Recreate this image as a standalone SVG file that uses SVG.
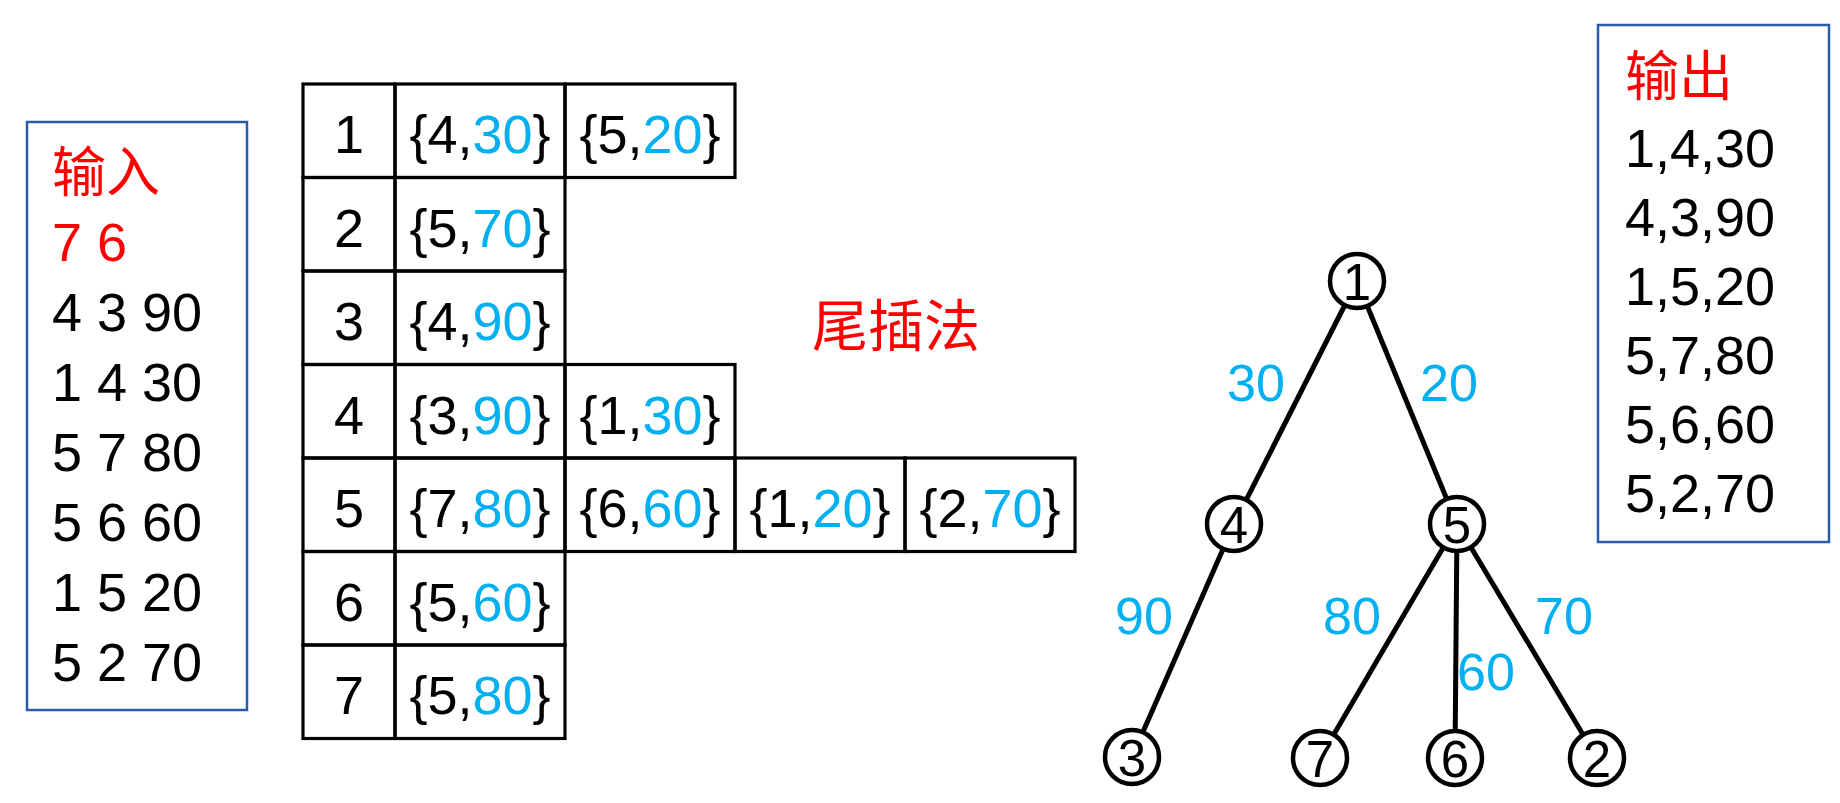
<svg xmlns="http://www.w3.org/2000/svg" width="1840" height="803" viewBox="0 0 1840 803">
<style>
text { font-family: "Liberation Sans", "Noto Sans CJK SC", sans-serif; }
.t { font-size: 54px; fill: #000; }
.red { fill: #FF0000; }
.blue { fill: #00B0F0; }
.cjk { font-family: "Noto Sans CJK SC", sans-serif; }
.box { fill: #fff; stroke: #2A5CAA; stroke-width: 2.5; }
.cell { fill: none; stroke: #000; stroke-width: 3.2; }
.ct { font-size: 54px; text-anchor: middle; fill: #000; }
.edge { stroke: #000; stroke-width: 5; }
.node circle { fill: #fff; stroke: #000; stroke-width: 4.5; }
.node text { font-size: 51px; text-anchor: middle; fill: #000; }
.lbl { font-size: 52px; text-anchor: middle; fill: #00B0F0; }
</style>
<rect width="1840" height="803" fill="#fff"/>

<g id="input">
  <rect class="box" x="27" y="122" width="220" height="588"/>
  <text class="t red cjk" x="52" y="192" font-size="54">输入</text>
  <text class="t red" x="52" y="261">7 6</text>
  <text class="t" x="52" y="331">4 3 90</text>
  <text class="t" x="52" y="401">1 4 30</text>
  <text class="t" x="52" y="471">5 7 80</text>
  <text class="t" x="52" y="541">5 6 60</text>
  <text class="t" x="52" y="611">1 5 20</text>
  <text class="t" x="52" y="681">5 2 70</text>
</g>

<g id="table">
  <g id="row1">
    <rect class="cell" x="303" y="84" width="92" height="93.5"/>
    <rect class="cell" x="395" y="84" width="170" height="93.5"/>
    <rect class="cell" x="565" y="84" width="170" height="93.5"/>
    <text class="ct" x="349" y="153">1</text>
    <text class="ct" x="480" y="153">{4,<tspan class="blue">30</tspan>}</text>
    <text class="ct" x="650" y="153">{5,<tspan class="blue">20</tspan>}</text>
  </g>
  <g id="row2">
    <rect class="cell" x="303" y="177.5" width="92" height="93.5"/>
    <rect class="cell" x="395" y="177.5" width="170" height="93.5"/>
    <text class="ct" x="349" y="246.5">2</text>
    <text class="ct" x="480" y="246.5">{5,<tspan class="blue">70</tspan>}</text>
  </g>
  <g id="row3">
    <rect class="cell" x="303" y="271" width="92" height="93.5"/>
    <rect class="cell" x="395" y="271" width="170" height="93.5"/>
    <text class="ct" x="349" y="340">3</text>
    <text class="ct" x="480" y="340">{4,<tspan class="blue">90</tspan>}</text>
  </g>
  <g id="row4">
    <rect class="cell" x="303" y="364.5" width="92" height="93.5"/>
    <rect class="cell" x="395" y="364.5" width="170" height="93.5"/>
    <rect class="cell" x="565" y="364.5" width="170" height="93.5"/>
    <text class="ct" x="349" y="433.5">4</text>
    <text class="ct" x="480" y="433.5">{3,<tspan class="blue">90</tspan>}</text>
    <text class="ct" x="650" y="433.5">{1,<tspan class="blue">30</tspan>}</text>
  </g>
  <g id="row5">
    <rect class="cell" x="303" y="458" width="92" height="93.5"/>
    <rect class="cell" x="395" y="458" width="170" height="93.5"/>
    <rect class="cell" x="565" y="458" width="170" height="93.5"/>
    <rect class="cell" x="735" y="458" width="170" height="93.5"/>
    <rect class="cell" x="905" y="458" width="170" height="93.5"/>
    <text class="ct" x="349" y="527">5</text>
    <text class="ct" x="480" y="527">{7,<tspan class="blue">80</tspan>}</text>
    <text class="ct" x="650" y="527">{6,<tspan class="blue">60</tspan>}</text>
    <text class="ct" x="820" y="527">{1,<tspan class="blue">20</tspan>}</text>
    <text class="ct" x="990" y="527">{2,<tspan class="blue">70</tspan>}</text>
  </g>
  <g id="row6">
    <rect class="cell" x="303" y="551.5" width="92" height="93.5"/>
    <rect class="cell" x="395" y="551.5" width="170" height="93.5"/>
    <text class="ct" x="349" y="620.5">6</text>
    <text class="ct" x="480" y="620.5">{5,<tspan class="blue">60</tspan>}</text>
  </g>
  <g id="row7">
    <rect class="cell" x="303" y="645" width="92" height="93.5"/>
    <rect class="cell" x="395" y="645" width="170" height="93.5"/>
    <text class="ct" x="349" y="714">7</text>
    <text class="ct" x="480" y="714">{5,<tspan class="blue">80</tspan>}</text>
  </g>
</g>

<g id="method">
  <text class="red cjk" x="896" y="346" font-size="56" text-anchor="middle">尾插法</text>
</g>

<g id="connectors">
  <line class="edge" x1="1357" y1="281" x2="1234" y2="524"/>
  <line class="edge" x1="1357" y1="281" x2="1457" y2="524"/>
  <line class="edge" x1="1234" y1="524" x2="1132" y2="757"/>
  <line class="edge" x1="1457" y1="524" x2="1320" y2="758"/>
  <line class="edge" x1="1457" y1="524" x2="1455" y2="758"/>
  <line class="edge" x1="1457" y1="524" x2="1597" y2="758"/>
  <text class="lbl" x="1256" y="401">30</text>
  <text class="lbl" x="1449" y="401">20</text>
  <text class="lbl" x="1144" y="634">90</text>
  <text class="lbl" x="1352" y="634">80</text>
  <text class="lbl" x="1564" y="634">70</text>
  <text class="lbl" x="1486" y="690">60</text>
</g>

<g id="node1" class="node"><circle cx="1357" cy="281" r="27"/><text x="1357" y="300">1</text></g>
<g id="node4" class="node"><circle cx="1234" cy="524" r="27"/><text x="1234" y="543">4</text></g>
<g id="node5" class="node"><circle cx="1457" cy="524" r="27"/><text x="1457" y="543">5</text></g>
<g id="node3" class="node"><circle cx="1132" cy="757" r="27"/><text x="1132" y="776">3</text></g>
<g id="node7" class="node"><circle cx="1320" cy="758" r="27"/><text x="1320" y="777">7</text></g>
<g id="node6" class="node"><circle cx="1455" cy="758" r="27"/><text x="1455" y="777">6</text></g>
<g id="node2" class="node"><circle cx="1597" cy="758" r="27"/><text x="1597" y="777">2</text></g>

<g id="output">
  <rect class="box" x="1598" y="25" width="231" height="517"/>
  <text class="t red cjk" x="1625" y="96" font-size="53">输出</text>
  <text class="t" x="1625" y="167">1,4,30</text>
  <text class="t" x="1625" y="236">4,3,90</text>
  <text class="t" x="1625" y="305">1,5,20</text>
  <text class="t" x="1625" y="374">5,7,80</text>
  <text class="t" x="1625" y="443">5,6,60</text>
  <text class="t" x="1625" y="512">5,2,70</text>
</g>
</svg>
